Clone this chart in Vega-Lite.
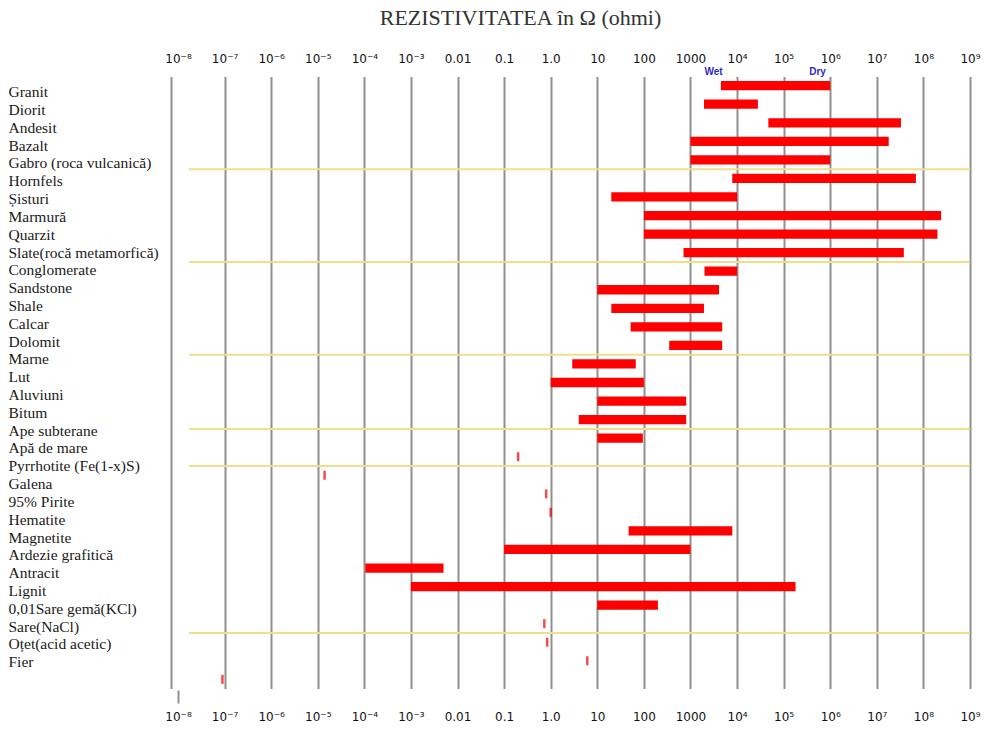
{
  "$schema": "https://vega.github.io/schema/vega-lite/v6.json",
  "width": 799,
  "height": 627,
  "autosize": {"type": "none"},
  "padding": {"left": 171, "top": 76, "right": 20, "bottom": 28},
  "background": "white",
  "config": {"view": {"stroke": null}},
  "title": {
    "text": "REZISTIVITATEA în Ω (ohmi)",
    "font": "Liberation Serif",
    "fontSize": 22,
    "fontWeight": "normal",
    "color": "#333333",
    "anchor": "middle",
    "dx": -50,
    "offset": 22
  },
  "datasets": {
    "rows": [
      {"name": "Granit", "lo": 4500, "hi": 1000000},
      {"name": "Diorit", "lo": 1950, "hi": 28000},
      {"name": "Andesit", "lo": 47000, "hi": 33000000},
      {"name": "Bazalt", "lo": 1000, "hi": 18000000},
      {"name": "Gabro (roca vulcanică)", "lo": 1000, "hi": 1000000},
      {"name": "Hornfels", "lo": 7900, "hi": 69000000},
      {"name": "Șisturi", "lo": 20, "hi": 10000},
      {"name": "Marmură", "lo": 100, "hi": 240000000},
      {"name": "Quarzit", "lo": 100, "hi": 200000000},
      {"name": "Slate(rocă metamorfică)", "lo": 710, "hi": 38000000},
      {"name": "Conglomerate", "lo": 2000, "hi": 10000},
      {"name": "Sandstone", "lo": 10, "hi": 4100},
      {"name": "Shale", "lo": 20, "hi": 1950},
      {"name": "Calcar", "lo": 52, "hi": 4800},
      {"name": "Dolomit", "lo": 350, "hi": 4800},
      {"name": "Marne", "lo": 2.9, "hi": 67},
      {"name": "Lut", "lo": 1, "hi": 100},
      {"name": "Aluviuni", "lo": 10, "hi": 810},
      {"name": "Bitum", "lo": 4, "hi": 810},
      {"name": "Ape subterane", "lo": 10, "hi": 95},
      {"name": "Apă de mare", "lo": 0.2, "hi": 0.2},
      {"name": "Pyrrhotite (Fe(1-x)S)", "lo": 0.000014, "hi": 0.000014},
      {"name": "Galena", "lo": 0.8, "hi": 0.8},
      {"name": "95% Pirite", "lo": 1.0, "hi": 1.0},
      {"name": "Hematite", "lo": 47, "hi": 7900},
      {"name": "Magnetite", "lo": 0.1, "hi": 1000},
      {"name": "Ardezie grafitică", "lo": 0.000105, "hi": 0.005},
      {"name": "Antracit", "lo": 0.001, "hi": 180000},
      {"name": "Lignit", "lo": 10, "hi": 200},
      {"name": "0,01Sare gemă(KCl)", "lo": 0.73, "hi": 0.73},
      {"name": "Sare(NaCl)", "lo": 0.84, "hi": 0.84},
      {"name": "Oțet(acid acetic)", "lo": 6.1, "hi": 6.1},
      {"name": "Fier", "lo": 0.00000009, "hi": 0.00000009}
    ],
    "seps": [
      {"name": "Hornfels"},
      {"name": "Conglomerate"},
      {"name": "Marne"},
      {"name": "Ape subterane"},
      {"name": "Pyrrhotite (Fe(1-x)S)"},
      {"name": "Sare(NaCl)"}
    ],
    "notes": [
      {"name": "Granit", "v": 3140, "label": "Wet"},
      {"name": "Granit", "v": 535000, "label": "Dry"}
    ]
  },
  "resolve": {"scale": {"y": "independent"}, "axis": {"x": "independent"}},
  "layer": [
    {
      "data": {"name": "rows"},
      "mark": {"type": "point", "opacity": 0, "size": 0},
      "encoding": {
        "y": {
          "field": "name",
          "type": "nominal",
          "scale": {
            "type": "point",
            "domain": ["Granit", "Diorit", "Andesit", "Bazalt", "Gabro (roca vulcanică)", "Hornfels", "Șisturi", "Marmură", "Quarzit", "Slate(rocă metamorfică)", "Conglomerate", "Sandstone", "Shale", "Calcar", "Dolomit", "Marne", "Lut", "Aluviuni", "Bitum", "Ape subterane", "Apă de mare", "Pyrrhotite (Fe(1-x)S)", "Galena", "95% Pirite", "Hematite", "Magnetite", "Ardezie grafitică", "Antracit", "Lignit", "0,01Sare gemă(KCl)", "Sare(NaCl)", "Oțet(acid acetic)", "Fier"],
            "range": [15.7, 585.7],
            "padding": 0
          },
          "axis": {
            "orient": "left",
            "title": null,
            "ticks": false,
            "tickSize": 0,
            "domain": false,
            "grid": false,
            "labelAlign": "left",
            "labelBaseline": "middle",
            "labelPadding": 163,
            "labelFont": "Liberation Serif",
            "labelFontSize": 15.5,
            "labelColor": "#1a1a1a",
            "labelLimit": 0,
            "labelOverlap": false
          }
        }
      }
    },
    {
      "data": {"name": "rows"},
      "transform": [{"filter": "datum.lo != datum.hi"}],
      "mark": {"type": "bar", "color": "#ff0000", "height": {"band": 0.5}},
      "encoding": {
        "y": {
          "field": "name",
          "type": "nominal",
          "scale": {
            "type": "band",
            "domain": ["Granit", "Diorit", "Andesit", "Bazalt", "Gabro (roca vulcanică)", "Hornfels", "Șisturi", "Marmură", "Quarzit", "Slate(rocă metamorfică)", "Conglomerate", "Sandstone", "Shale", "Calcar", "Dolomit", "Marne", "Lut", "Aluviuni", "Bitum", "Ape subterane", "Apă de mare", "Pyrrhotite (Fe(1-x)S)", "Galena", "95% Pirite", "Hematite", "Magnetite", "Ardezie grafitică", "Antracit", "Lignit", "0,01Sare gemă(KCl)", "Sare(NaCl)", "Oțet(acid acetic)", "Fier"],
            "range": [0.4, 612.6],
            "paddingInner": 0,
            "paddingOuter": 0
          },
          "axis": null
        },
        "x": {
          "field": "lo",
          "type": "quantitative",
          "scale": {"type": "log", "domain": [7.08e-9, 1000000000], "nice": false, "zero": false},
          "axis": {
            "orient": "top",
            "title": null,
            "values": [7.08e-9, 1e-8, 1e-7, 1e-6, 1e-5, 1e-4, 1e-3, 0.01, 0.1, 1, 10, 100, 1000, 10000, 100000, 1000000, 10000000, 100000000, 1000000000],
            "labelExpr": "datum.value < 9e-9 ? '' : ['10⁻⁸','10⁻⁷','10⁻⁶','10⁻⁵','10⁻⁴','10⁻³','0.01','0.1','1.0','10','100','1000','10⁴','10⁵','10⁶','10⁷','10⁸','10⁹'][round(log(datum.value)/LN10)+8]",
            "ticks": false,
            "tickSize": 0,
            "domain": false,
            "grid": true,
            "gridColor": "#8f8f8f",
            "gridWidth": 2,
            "gridOpacity": {"condition": {"test": "datum.value > 9e-9 && datum.value < 2e-8", "value": 0}, "value": 1},
            "labelFont": "DejaVu Sans",
            "labelFontSize": 12,
            "labelColor": "#111111",
            "labelPadding": 11,
            "labelFlush": false,
            "labelOverlap": false,
            "labelBound": false
          }
        },
        "x2": {"field": "hi"}
      }
    },
    {
      "data": {"name": "rows"},
      "transform": [{"filter": "datum.lo == datum.hi"}],
      "mark": {"type": "tick", "color": "#ee0000", "thickness": 2.5, "size": 9},
      "encoding": {
        "y": {
          "field": "name",
          "type": "nominal",
          "scale": {
            "type": "band",
            "domain": ["Granit", "Diorit", "Andesit", "Bazalt", "Gabro (roca vulcanică)", "Hornfels", "Șisturi", "Marmură", "Quarzit", "Slate(rocă metamorfică)", "Conglomerate", "Sandstone", "Shale", "Calcar", "Dolomit", "Marne", "Lut", "Aluviuni", "Bitum", "Ape subterane", "Apă de mare", "Pyrrhotite (Fe(1-x)S)", "Galena", "95% Pirite", "Hematite", "Magnetite", "Ardezie grafitică", "Antracit", "Lignit", "0,01Sare gemă(KCl)", "Sare(NaCl)", "Oțet(acid acetic)", "Fier"],
            "range": [0.4, 612.6],
            "paddingInner": 0,
            "paddingOuter": 0
          },
          "axis": null
        },
        "x": {
          "field": "lo",
          "type": "quantitative",
          "axis": {
            "orient": "bottom",
            "title": null,
            "values": [1e-8, 1e-7, 1e-6, 1e-5, 1e-4, 1e-3, 0.01, 0.1, 1, 10, 100, 1000, 10000, 100000, 1000000, 10000000, 100000000, 1000000000],
            "labelExpr": "['10⁻⁸','10⁻⁷','10⁻⁶','10⁻⁵','10⁻⁴','10⁻³','0.01','0.1','1.0','10','100','1000','10⁴','10⁵','10⁶','10⁷','10⁸','10⁹'][round(log(datum.value)/LN10)+8]",
            "ticks": true,
            "tickSize": -13,
            "tickColor": "#8f8f8f",
            "tickWidth": 2,
            "tickOpacity": {"condition": {"test": "datum.value < 2e-8", "value": 1}, "value": 0},
            "domain": false,
            "grid": false,
            "labelFont": "DejaVu Sans",
            "labelFontSize": 12,
            "labelColor": "#111111",
            "labelPadding": 21,
            "labelFlush": false,
            "labelOverlap": false,
            "labelBound": false
          }
        }
      }
    },
    {
      "data": {"name": "seps"},
      "mark": {"type": "rule", "color": "#eee08a", "strokeWidth": 2},
      "encoding": {
        "y": {
          "field": "name",
          "type": "nominal",
          "bandPosition": 0,
          "scale": {
            "type": "band",
            "domain": ["Granit", "Diorit", "Andesit", "Bazalt", "Gabro (roca vulcanică)", "Hornfels", "Șisturi", "Marmură", "Quarzit", "Slate(rocă metamorfică)", "Conglomerate", "Sandstone", "Shale", "Calcar", "Dolomit", "Marne", "Lut", "Aluviuni", "Bitum", "Ape subterane", "Apă de mare", "Pyrrhotite (Fe(1-x)S)", "Galena", "95% Pirite", "Hematite", "Magnetite", "Ardezie grafitică", "Antracit", "Lignit", "0,01Sare gemă(KCl)", "Sare(NaCl)", "Oțet(acid acetic)", "Fier"],
            "range": [0.4, 612.6],
            "paddingInner": 0,
            "paddingOuter": 0
          },
          "axis": null
        },
        "x": {"datum": 1.72e-8, "axis": null},
        "x2": {"datum": 1000000000}
      }
    },
    {
      "data": {"name": "notes"},
      "mark": {"type": "text", "color": "#2a2ac8", "font": "Liberation Sans", "fontSize": 10, "fontWeight": "bold", "dy": -14, "baseline": "middle"},
      "encoding": {
        "y": {
          "field": "name",
          "type": "nominal",
          "scale": {
            "type": "band",
            "domain": ["Granit", "Diorit", "Andesit", "Bazalt", "Gabro (roca vulcanică)", "Hornfels", "Șisturi", "Marmură", "Quarzit", "Slate(rocă metamorfică)", "Conglomerate", "Sandstone", "Shale", "Calcar", "Dolomit", "Marne", "Lut", "Aluviuni", "Bitum", "Ape subterane", "Apă de mare", "Pyrrhotite (Fe(1-x)S)", "Galena", "95% Pirite", "Hematite", "Magnetite", "Ardezie grafitică", "Antracit", "Lignit", "0,01Sare gemă(KCl)", "Sare(NaCl)", "Oțet(acid acetic)", "Fier"],
            "range": [0.4, 612.6],
            "paddingInner": 0,
            "paddingOuter": 0
          },
          "axis": null
        },
        "x": {"field": "v", "type": "quantitative", "axis": null},
        "text": {"field": "label"}
      }
    }
  ]
}
